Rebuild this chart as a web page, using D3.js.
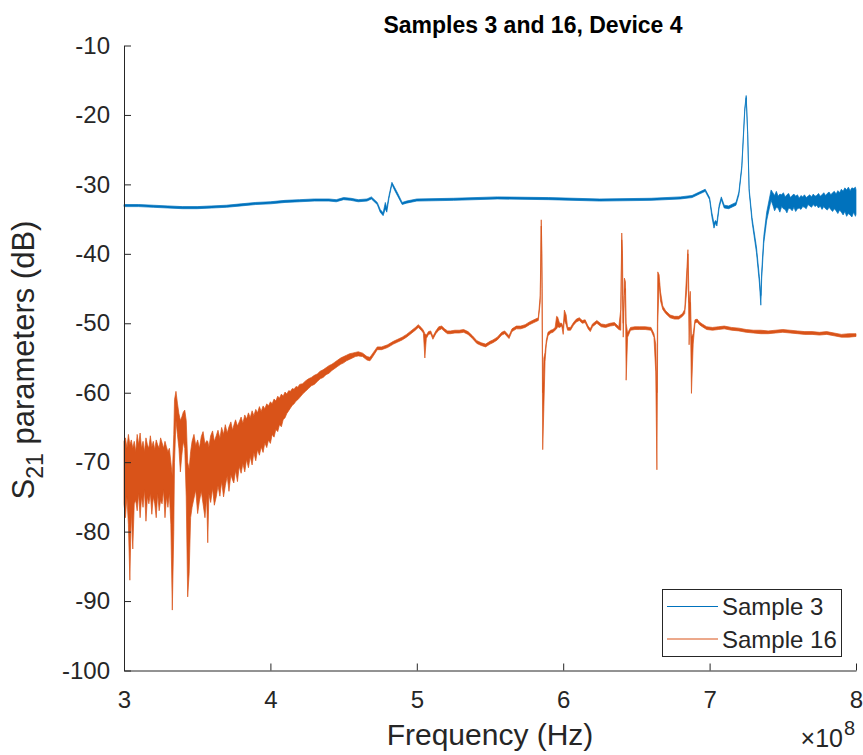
<!DOCTYPE html>
<html>
<head>
<meta charset="utf-8">
<script src="https://cdn.jsdelivr.net/npm/d3@7"></script>
<style>
  body { margin: 0; background: #fff; }
  text { font-family: 'Liberation Sans', Arial, Helvetica, sans-serif; }
</style>
</head>
<body>
<script>
// frequencies are in units of 1e8 Hz (axis shows x10^8)
var xTicks = [3, 4, 5, 6, 7, 8]
var yTicks = [-100, -90, -80, -70, -60, -50, -40, -30, -20, -10]
var seriesNames = ['Sample 3', 'Sample 16']

// each row: [freq, low, high] envelope of the trace (dB)
var sample3 = [
  [3.00, -33.2, -32.9], [3.10, -33.2, -32.9], [3.20, -33.3, -33.0], [3.30, -33.4, -33.1],
  [3.40, -33.5, -33.2], [3.50, -33.5, -33.2], [3.60, -33.4, -33.1], [3.70, -33.3, -33.0],
  [3.80, -33.1, -32.8], [3.90, -32.9, -32.6], [4.00, -32.8, -32.5], [4.10, -32.6, -32.3],
  [4.20, -32.5, -32.2], [4.30, -32.4, -32.1], [4.40, -32.4, -32.1], [4.45, -32.5, -32.2],
  [4.50, -32.2, -31.9], [4.55, -32.3, -32.0], [4.60, -32.5, -32.2], [4.66, -32.4, -32.1],
  [4.69, -32.1, -31.8], [4.73, -32.9, -32.6], [4.75, -34.0, -33.6], [4.77, -34.5, -34.1],
  [4.785, -33.5, -32.6], [4.795, -34.0, -33.4], [4.81, -32.0, -31.6], [4.83, -30.0, -29.7],
  [4.85, -30.9, -30.5], [4.87, -31.7, -31.3], [4.90, -32.9, -32.6], [4.93, -32.7, -32.4],
  [5.00, -32.4, -32.1], [5.25, -32.3, -32.0], [5.55, -32.1, -31.8], [5.90, -32.2, -31.9],
  [6.25, -32.4, -32.1], [6.60, -32.3, -32.0], [6.80, -32.1, -31.8], [6.88, -31.9, -31.6],
  [6.93, -31.4, -31.1], [6.97, -31.0, -30.7], [7.00, -32.2, -31.9], [7.015, -34.6, -34.0],
  [7.03, -36.3, -35.6], [7.04, -35.6, -35.2], [7.05, -36.0, -35.4], [7.065, -33.4, -33.0],
  [7.08, -32.2, -31.8], [7.10, -33.4, -33.0], [7.13, -33.5, -33.1], [7.18, -33.0, -32.6],
  [7.20, -31.5, -31.1], [7.22, -27.7, -27.3], [7.24, -19.5, -19.1], [7.25, -17.5, -17.2],
  [7.26, -22.8, -22.4], [7.27, -31.0, -30.6], [7.29, -35.4, -34.8], [7.32, -39.8, -39.0],
  [7.34, -44.2, -43.3], [7.35, -47.4, -46.0], [7.356, -43.5, -42.5], [7.37, -38.5, -37.5],
  [7.39, -35.2, -34.0], [7.42, -32.3, -30.8],
  [7.432, -33.0, -31.2], [7.444, -33.8, -31.6], [7.456, -33.3, -31.0], [7.468, -33.4, -31.7],
  [7.480, -34.0, -31.4], [7.492, -33.2, -31.5], [7.504, -33.5, -31.2], [7.516, -33.6, -31.8],
  [7.528, -34.1, -31.5], [7.540, -33.4, -31.3], [7.552, -33.5, -31.9], [7.564, -33.8, -31.6],
  [7.576, -33.3, -31.4], [7.588, -33.9, -31.7], [7.600, -33.5, -31.5], [7.612, -33.4, -32.0],
  [7.624, -33.6, -31.6], [7.636, -33.2, -31.8], [7.648, -33.3, -31.5], [7.660, -33.5, -31.9],
  [7.672, -32.9, -31.7], [7.684, -33.1, -31.5], [7.696, -33.3, -31.8], [7.708, -32.9, -31.4],
  [7.720, -33.2, -31.7], [7.732, -33.0, -31.6], [7.744, -33.4, -31.3], [7.756, -33.1, -31.7],
  [7.768, -33.6, -31.5], [7.780, -33.2, -31.2], [7.792, -33.5, -31.6], [7.804, -33.7, -31.3],
  [7.816, -33.3, -31.1], [7.828, -33.6, -31.5], [7.840, -33.9, -31.2], [7.852, -33.5, -31.0],
  [7.864, -33.8, -31.4], [7.876, -34.2, -30.9], [7.888, -33.7, -31.2], [7.900, -34.0, -30.7],
  [7.912, -34.4, -31.0], [7.924, -33.9, -30.5], [7.936, -34.6, -30.8], [7.948, -34.2, -30.4],
  [7.960, -34.4, -30.9], [7.972, -34.7, -30.5], [7.984, -34.0, -30.6], [7.996, -34.6, -30.4],
  [8.000, -34.3, -30.8]
]

var sample16 = [
  [3.000, -76, -67], [3.010, -78, -66.5], [3.020, -75, -68], [3.030, -79, -66],
  [3.040, -87, -67.5], [3.050, -77, -66.8], [3.060, -82.5, -68], [3.070, -76, -67],
  [3.080, -75.5, -68.5], [3.090, -77, -66], [3.100, -74.5, -67.5], [3.110, -78, -65.8],
  [3.120, -75, -68], [3.130, -76.5, -67], [3.140, -74, -68.5], [3.150, -78.5, -66.5],
  [3.160, -75, -67.5], [3.170, -76, -68], [3.180, -74.5, -66.2], [3.190, -77.5, -67.8],
  [3.200, -75, -67], [3.210, -76, -68.2], [3.220, -78, -66.8], [3.230, -74.5, -67.5],
  [3.240, -77, -68], [3.250, -75.5, -66.5], [3.260, -76, -67.2], [3.270, -74, -68],
  [3.280, -78, -67], [3.290, -75, -67.8], [3.300, -76.5, -68.5], [3.310, -74.5, -68],
  [3.320, -79, -70], [3.330, -91.3, -72], [3.340, -80, -66], [3.345, -70, -61],
  [3.355, -64, -59.8], [3.365, -66, -61.5], [3.375, -68, -63], [3.385, -71.4, -64],
  [3.395, -69, -63.5], [3.405, -67, -62.8], [3.415, -68, -62.5], [3.425, -75, -64],
  [3.435, -89.4, -70], [3.445, -86, -71], [3.455, -78, -68.5],
  [3.465, -76.5, -67.0], [3.478, -75.2, -66.0], [3.490, -74.0, -67.6], [3.503, -77.4, -66.8],
  [3.515, -75.6, -68.0], [3.528, -74.2, -66.3], [3.540, -76.0, -65.6], [3.553, -78.0, -67.4],
  [3.565, -75.0, -66.9], [3.572, -81.6, -67.0], [3.580, -74.6, -67.8], [3.592, -75.8, -66.2],
  [3.605, -73.8, -65.5], [3.617, -76.2, -67.0], [3.630, -75.0, -66.2], [3.642, -73.4, -65.4],
  [3.655, -74.9, -66.6], [3.667, -72.8, -65.0], [3.680, -75.0, -66.0], [3.692, -73.4, -64.6],
  [3.705, -72.0, -65.8], [3.717, -74.2, -64.9], [3.730, -71.8, -64.2], [3.742, -72.6, -65.4],
  [3.750, -73.0, -64.7], [3.762, -71.2, -63.9], [3.775, -72.8, -64.8], [3.787, -70.6, -64.2],
  [3.800, -71.6, -63.5], [3.812, -70.2, -64.4], [3.825, -71.4, -63.2], [3.837, -69.6, -63.8],
  [3.850, -70.8, -62.9], [3.862, -69.2, -63.6], [3.875, -70.4, -62.6], [3.887, -68.6, -63.3],
  [3.900, -69.8, -62.4], [3.912, -68.2, -62.9], [3.925, -69.0, -62.0], [3.937, -67.8, -62.7],
  [3.950, -68.6, -61.9], [3.962, -67.2, -62.3], [3.975, -67.9, -61.6], [3.987, -66.8, -61.9],
  [4.000, -67.3, -61.3], [4.012, -66.0, -61.6], [4.025, -66.4, -60.9], [4.037, -65.3, -61.2],
  [4.050, -65.6, -60.5], [4.062, -64.6, -60.8], [4.075, -64.9, -60.2], [4.087, -63.9, -60.5],
  [4.100, -63.6, -59.9], [4.112, -63.0, -60.2], [4.125, -62.6, -59.7], [4.137, -62.2, -59.8],
  [4.150, -61.8, -59.4], [4.162, -61.6, -59.5], [4.175, -61.2, -59.1], [4.187, -61.0, -59.2],
  [4.200, -60.7, -58.8], [4.220, -60.2, -58.7], [4.240, -59.8, -58.3], [4.260, -59.4, -58.0],
  [4.280, -59.0, -57.8], [4.300, -58.8, -57.5], [4.320, -58.4, -57.3], [4.340, -58.0, -56.9],
  [4.360, -57.8, -56.7], [4.380, -57.4, -56.4], [4.400, -57.2, -56.1], [4.420, -56.8, -55.9],
  [4.440, -56.5, -55.6], [4.460, -56.2, -55.3], [4.480, -55.9, -55.0], [4.500, -55.7, -54.8],
  [4.520, -55.4, -54.6], [4.540, -55.2, -54.4], [4.560, -55.0, -54.3], [4.580, -54.8, -54.2],
  [4.600, -54.7, -54.1], [4.630, -54.8, -54.3], [4.660, -55.3, -54.8], [4.680, -55.4, -54.9],
  [4.700, -54.8, -54.3], [4.730, -53.8, -53.4], [4.760, -53.8, -53.4], [4.800, -53.5, -53.1],
  [4.840, -53.0, -52.6], [4.870, -52.7, -52.3], [4.900, -52.4, -52.0], [4.930, -52.0, -51.6],
  [4.960, -51.5, -51.1], [4.990, -51.0, -50.6], [5.010, -50.6, -50.2], [5.030, -51.0, -50.6],
  [5.045, -51.4, -51.0], [5.055, -55.0, -51.5], [5.065, -52.2, -51.7], [5.080, -51.6, -51.2],
  [5.095, -51.5, -51.1], [5.110, -52.3, -51.9], [5.130, -51.5, -51.1], [5.150, -51.0, -50.5],
  [5.170, -50.8, -50.4], [5.190, -51.2, -50.8], [5.210, -51.5, -51.1], [5.230, -51.5, -51.1],
  [5.260, -51.4, -51.0], [5.290, -51.4, -51.0], [5.320, -51.3, -50.9], [5.350, -51.6, -51.2],
  [5.380, -52.2, -51.8], [5.410, -52.9, -52.5], [5.440, -53.2, -52.8], [5.470, -53.4, -53.0],
  [5.500, -53.0, -52.6], [5.520, -52.8, -52.4], [5.550, -52.4, -52.0], [5.580, -51.7, -51.3],
  [5.600, -51.5, -51.1], [5.630, -52.2, -51.8], [5.650, -51.2, -50.8], [5.680, -50.8, -50.4],
  [5.710, -50.8, -50.4], [5.740, -50.6, -50.2], [5.770, -50.2, -49.8], [5.800, -49.9, -49.5],
  [5.830, -49.6, -49.2], [5.843, -47, -46], [5.850, -36, -35.1], [5.855, -45, -40],
  [5.860, -68.2, -60], [5.868, -62, -55], [5.876, -55.5, -54.2], [5.885, -53, -52.4],
  [5.896, -51.8, -51.3], [5.915, -51.4, -51.0], [5.930, -51.3, -50.9], [5.945, -51.0, -50.6],
  [5.955, -50.8, -49.0], [5.962, -50.5, -49.1], [5.975, -50.6, -50.0], [5.990, -50.4, -50.0],
  [6.000, -51.6, -50.6], [6.008, -49.5, -48.1], [6.020, -50.2, -48.8], [6.030, -51.0, -50.6],
  [6.050, -51.0, -50.6], [6.070, -50.3, -49.9], [6.090, -49.8, -49.4], [6.110, -49.6, -49.2],
  [6.130, -50.0, -49.6], [6.150, -49.9, -49.5], [6.170, -50.8, -50.4], [6.185, -51.2, -50.8],
  [6.200, -50.5, -50.1], [6.230, -50.0, -49.6], [6.260, -50.5, -50.1], [6.290, -50.6, -50.2],
  [6.320, -50.4, -50.0], [6.350, -50.3, -49.9], [6.380, -50.9, -50.5], [6.393, -51.0, -48.0],
  [6.400, -38, -37.0], [6.405, -46, -40], [6.410, -52.0, -50], [6.418, -46, -43.5],
  [6.425, -45, -44], [6.430, -58.2, -50], [6.440, -52.0, -51.4], [6.460, -51.0, -50.6],
  [6.490, -50.9, -50.5], [6.520, -50.9, -50.5], [6.560, -50.9, -50.5], [6.600, -51.0, -50.6],
  [6.620, -52.0, -51.5], [6.632, -57, -53], [6.640, -71.1, -60], [6.646, -50, -42.6],
  [6.655, -44.2, -43.0], [6.665, -46.8, -45.5], [6.680, -48.0, -47.5], [6.700, -48.6, -48.2],
  [6.730, -49.2, -48.8], [6.760, -49.4, -49.0], [6.790, -49.4, -49.0], [6.815, -49.0, -48.6],
  [6.830, -48.6, -48.0], [6.845, -45, -42], [6.852, -40, -39.4], [6.860, -53.1, -47],
  [6.868, -47, -45.4], [6.876, -60.1, -52], [6.888, -53, -51.5], [6.900, -50.0, -49.5],
  [6.915, -49.8, -49.4], [6.930, -50.2, -49.8], [6.950, -50.5, -50.1], [6.980, -50.9, -50.5],
  [7.020, -51.0, -50.6], [7.060, -50.9, -50.5], [7.100, -50.8, -50.4], [7.150, -51.0, -50.6],
  [7.200, -51.1, -50.7], [7.250, -51.3, -50.9], [7.300, -51.4, -51.0], [7.350, -51.5, -51.0],
  [7.400, -51.5, -51.1], [7.450, -51.4, -51.0], [7.500, -51.3, -50.9], [7.550, -51.4, -51.0],
  [7.600, -51.5, -51.1], [7.650, -51.6, -51.2], [7.700, -51.6, -51.2], [7.750, -51.7, -51.3],
  [7.800, -51.6, -51.2], [7.850, -51.8, -51.4], [7.900, -52.0, -51.6], [7.950, -52.0, -51.5],
  [8.000, -51.9, -51.5]
]

var width = 863
var height = 755
var plotLeft = 124
var plotRight = 856
var plotTop = 45.5
var plotBottom = 670.5
var axisColor = '#262626'
var colors = ['#0072BD', '#D95319']

var svg = d3.select('body').append('svg')
  .attr('width', width)
  .attr('height', height)

var x = d3.scaleLinear().domain([3, 8]).range([plotLeft, plotRight])
var y = d3.scaleLinear().domain([-100, -10]).range([plotBottom, plotTop])

// traces: filled envelope between low and high, outlined so thin parts still show
var band = d3.area()
  .x(function(d) { return x(d[0]) })
  .y0(function(d) { return y(d[1]) })
  .y1(function(d) { return y(d[2]) })

;[sample3, sample16].forEach(function(rows, i) {
  svg.append('path')
    .datum(rows)
    .attr('d', band)
    .attr('fill', colors[i])
    .attr('stroke', colors[i])
    .attr('stroke-width', 0.7)
    .attr('stroke-linejoin', 'round')
})

// axes, MATLAB style: ticks pointing in, box off
var xAxis = d3.axisBottom(x)
  .tickValues(xTicks)
  .tickFormat(function(d) { return String(d) })
  .tickSizeInner(-7)
  .tickSizeOuter(0)
  .tickPadding(20)

var yAxis = d3.axisLeft(y)
  .tickValues(yTicks)
  .tickFormat(function(d) { return String(d) })
  .tickSizeInner(-7)
  .tickSizeOuter(0)
  .tickPadding(14)

var gx = svg.append('g')
  .attr('transform', 'translate(0,' + plotBottom + ')')
  .call(xAxis)
var gy = svg.append('g')
  .attr('transform', 'translate(' + plotLeft + ',0)')
  .call(yAxis)

;[gx, gy].forEach(function(g) {
  g.select('.domain').attr('stroke', axisColor)
  g.selectAll('.tick line').attr('stroke', axisColor)
  g.selectAll('.tick text')
    .attr('fill', axisColor)
    .style('font-size', '24px')
})

// exponent label
svg.append('text')
  .attr('x', 843)
  .attr('y', 747)
  .attr('text-anchor', 'end')
  .attr('fill', axisColor)
  .style('font-size', '25px')
  .text('\u00d710')
svg.append('text')
  .attr('x', 844)
  .attr('y', 735)
  .attr('fill', axisColor)
  .style('font-size', '20px')
  .text('8')

// axis labels + title
svg.append('text')
  .attr('x', 490)
  .attr('y', 745)
  .attr('text-anchor', 'middle')
  .attr('fill', axisColor)
  .style('font-size', '30px')
  .text('Frequency (Hz)')

var ylab = svg.append('text')
  .attr('transform', 'rotate(-90)')
  .attr('x', -360)
  .attr('y', 34)
  .attr('text-anchor', 'middle')
  .attr('fill', axisColor)
  .style('font-size', '31px')
ylab.append('tspan').text('S')
ylab.append('tspan').attr('dy', 9).style('font-size', '23px').text('21')
ylab.append('tspan').attr('dy', -9).text(' parameters (dB)')

svg.append('text')
  .attr('x', 533)
  .attr('y', 33)
  .attr('text-anchor', 'middle')
  .attr('fill', '#000')
  .style('font-size', '23px')
  .style('font-weight', 'bold')
  .text('Samples 3 and 16, Device 4')

// legend
var legend = svg.append('g')
legend.append('rect')
  .attr('x', 662.5)
  .attr('y', 589.5)
  .attr('width', 179)
  .attr('height', 67)
  .attr('fill', '#fff')
  .attr('stroke', axisColor)
  .attr('stroke-width', 1)

seriesNames.forEach(function(name, i) {
  var ly = 606.5 + i * 32.5
  legend.append('line')
    .attr('x1', 667)
    .attr('x2', 718)
    .attr('y1', ly)
    .attr('y2', ly)
    .attr('stroke', colors[i])
    .attr('stroke-width', 1)
  legend.append('text')
    .attr('x', 722)
    .attr('y', ly + 8.5)
    .attr('fill', axisColor)
    .style('font-size', '24px')
    .text(name)
})
</script>
</body>
</html>
